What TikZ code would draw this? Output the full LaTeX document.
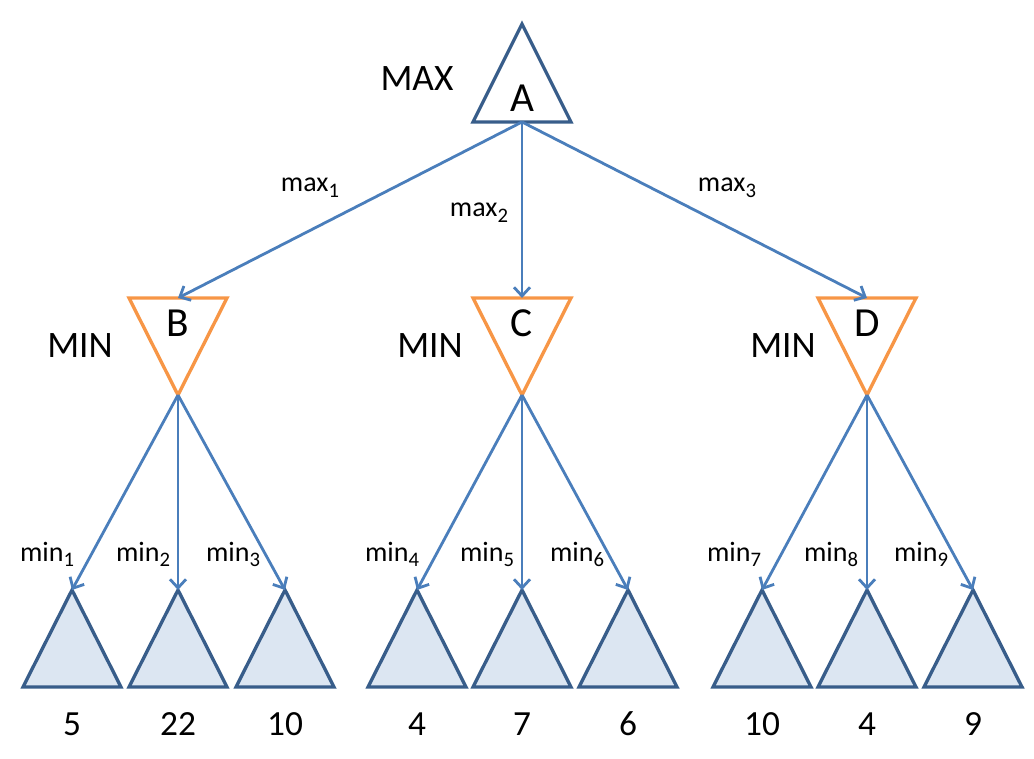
\documentclass[tikz,border=0pt]{standalone}
\usepackage{fontspec}
\setmainfont{Carlito}
\usetikzlibrary{arrows.meta}
\definecolor{outl}{HTML}{385D8A}
\definecolor{leaffill}{HTML}{DCE6F2}
\definecolor{arr}{HTML}{4A7EBB}
\definecolor{orng}{HTML}{F79646}
\newcommand{\mysub}[1]{\raisebox{-3.8pt}{\fontsize{15.5}{16}\selectfont #1}}
\begin{document}
\begin{tikzpicture}[x=0.75pt,y=-0.75pt,
  maxtri/.style={draw=outl,line width=2.5pt,line join=miter,fill=white},
  mintri/.style={draw=orng,line width=2.5pt,line join=miter,fill=white},
  leaftri/.style={draw=outl,line width=2.5pt,line join=miter,fill=leaffill},
  conn/.style={draw=arr,line width=2.1pt,-{Straight Barb[length=6.5pt,width=12pt,line width=2.1pt]}},
  bigtxt/.style={font=\fontsize{28}{30}\selectfont,inner sep=0pt},
  lettxt/.style={font=\fontsize{31}{33}\selectfont,inner sep=0pt},
  numtxt/.style={font=\fontsize{26.5}{28}\selectfont,inner sep=0pt},
  lbltxt/.style={font=\fontsize{21}{24}\selectfont,inner sep=0pt}]
\useasboundingbox (0,0) rectangle (1034,759);
% MAX node A
\coordinate (Atop) at (522,24);
\coordinate (Abot) at (522,122);
\path[maxtri] (Atop) -- (571,122) -- (473,122) -- cycle;
\node[lettxt] (A) at (522,98) {A};
\node[bigtxt] (maxlbl) at (417,79) {MAX};
% MIN nodes
\foreach \n/\x in {B/178,C/522,D/867}{
  \coordinate (\n top) at (\x,298);
  \coordinate (\n bot) at (\x,395);
  \path[mintri] (\x-49,298) -- (\x+49,298) -- (\n bot) -- cycle;
  \node[lettxt] (\n) at (\x,323) {\n};
}
\node[bigtxt] (minB) at (80,346) {MIN};
\node[bigtxt] (minC) at (430,346) {MIN};
\node[bigtxt] (minD) at (783,346) {MIN};
% leaves
\foreach \i/\x/\v in {1/72/5,2/178/22,3/285/10,4/417/4,5/522/7,6/628/6,7/762/10,8/867/4,9/973/9}{
  \coordinate (L\i) at (\x,590);
  \path[leaftri] (L\i) -- (\x+49,687) -- (\x-49,687) -- cycle;
  \node[numtxt] (V\i) at (\x,724) {\v};
}
% connectors
\draw[conn] (Abot) -- (Btop);
\draw[conn] (Abot) -- (Ctop);
\draw[conn] (Abot) -- (Dtop);
\draw[conn] (Bbot) -- (L1);
\draw[conn] (Bbot) -- (L2);
\draw[conn] (Bbot) -- (L3);
\draw[conn] (Cbot) -- (L4);
\draw[conn] (Cbot) -- (L5);
\draw[conn] (Cbot) -- (L6);
\draw[conn] (Dbot) -- (L7);
\draw[conn] (Dbot) -- (L8);
\draw[conn] (Dbot) -- (L9);
% labels
\node[lbltxt,anchor=base] (mx1) at (310,192) {max\mysub{1}};
\node[lbltxt,anchor=base] (mx2) at (479,217) {max\mysub{2}};
\node[lbltxt,anchor=base] (mx3) at (727,192) {max\mysub{3}};
\foreach \i/\x in {1/47,2/143,3/233,4/392,5/487,6/577,7/734,8/831,9/921}{
  \node[lbltxt,anchor=base] (mn\i) at (\x,561) {min\mysub{\i}};
}
\end{tikzpicture}
\end{document}
